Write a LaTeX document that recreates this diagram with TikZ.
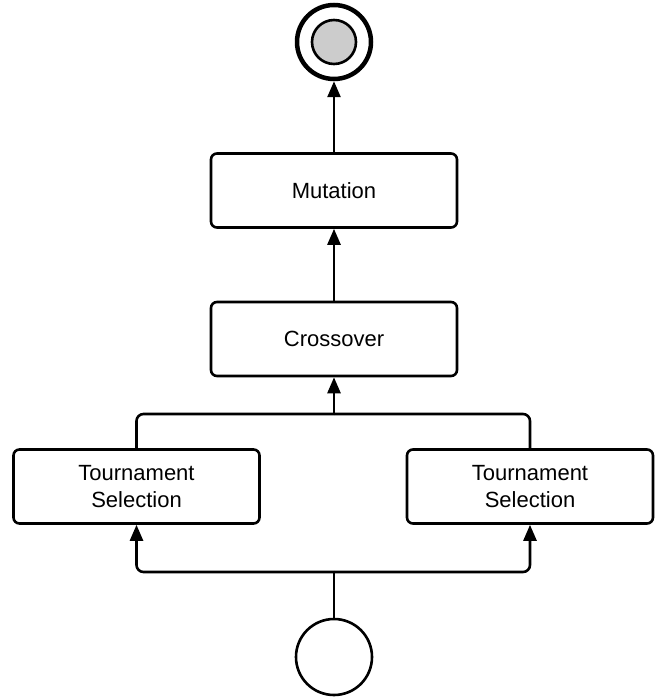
\documentclass[tikz,border=0pt]{standalone}
\usepackage{fontspec}
\setmainfont{Liberation Sans}
\usetikzlibrary{arrows.meta}
\begin{document}
\begin{tikzpicture}[x=1pt,y=-1pt,
  box/.style={draw,line width=2.6pt,rounded corners=6pt,minimum width=246pt,minimum height=74pt,inner sep=0pt,align=center,font=\fontsize{22}{27}\selectfont},
  conn/.style={line width=2.6pt,rounded corners=7pt,-{Triangle[length=16pt,width=13pt]}},
  line/.style={line width=2.6pt,rounded corners=7pt}]
\useasboundingbox (0,0) rectangle (664,698);
\node[circle,draw,line width=4.5pt,minimum size=74pt,inner sep=0pt] (end) at (334,42) {};
\node[circle,draw,line width=2.6pt,fill=black!20,minimum size=44pt,inner sep=0pt] (endin) at (334,42) {};
\node[box] (mut) at (334,190.5) {Mutation};
\node[box] (cro) at (334,339) {Crossover};
\node[box] (tl) at (136.5,486.5) {Tournament\\Selection};
\node[box] (tr) at (530,486.5) {Tournament\\Selection};
\node[circle,draw,line width=2.6pt,minimum size=76pt,inner sep=0pt] (start) at (334,657) {};
\coordinate (jb) at (334,572);
\coordinate (jt) at (334,414);
\draw[line] (start.north) -- (jb);
\draw[conn] (jb) -| (tl.south);
\draw[conn] (jb) -| (tr.south);
\draw[line] (tl.north) |- (jt);
\draw[line] (tr.north) |- (jt);
\draw[conn] (jt) -- (cro.south);
\draw[conn] (cro.north) -- (mut.south);
\draw[conn] (mut.north) -- (end.south);
\end{tikzpicture}
\end{document}
